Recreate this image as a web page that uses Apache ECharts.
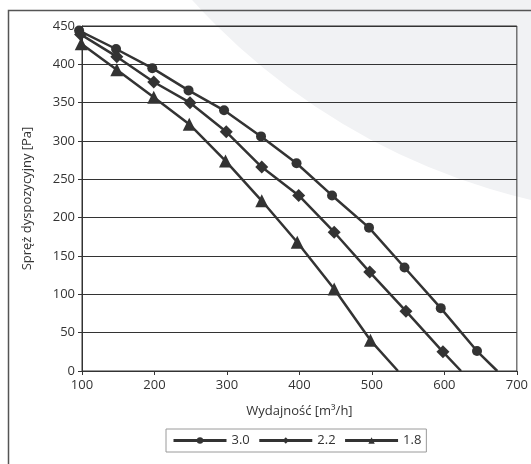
<!DOCTYPE html>
<html>
<head>
<meta charset="utf-8">
<script src="https://cdn.jsdelivr.net/npm/echarts@6/dist/echarts.min.js"></script>
<style>
html,body{margin:0;padding:0;background:#fff;}
#c{width:531px;height:464px;}
</style>
</head>
<body>
<div id="c"></div>
<script>
var seriesNames = ['3.0', '2.2', '1.8'];
var x30 = [96, 147, 197, 247, 296, 347, 396, 445, 496, 545, 595, 645, 673];
var y30 = [444, 420, 395, 366, 340, 306, 271, 229, 187, 135, 82, 26, 0];
var x22 = [98, 148, 199, 249, 299, 348, 399, 448, 497, 547, 598, 623];
var y22 = [439, 410, 377, 350, 312, 266, 229, 181, 129, 78, 25, 0];
var x18 = [99, 148, 199, 248, 298, 348, 397, 448, 498, 536];
var y18 = [427, 393, 357, 322, 274, 222, 168, 107, 40, 0];
var xTicks = [100, 200, 300, 400, 500, 600, 700];
var yTicks = [0, 50, 100, 150, 200, 250, 300, 350, 400, 450];

var FONT = 'Open Sans';
var INK = '#333333';

function build(xs, ys) {
  return xs.map(function (x, i) {
    var item = { value: [x, ys[i]] };
    if (ys[i] === 0) item.symbol = 'none';
    return item;
  });
}

function mkSeries(name, xs, ys, symbol, size) {
  return {
    name: name,
    type: 'line',
    data: build(xs, ys),
    symbol: symbol,
    symbolSize: size,
    showAllSymbol: true,
    clip: false,
    lineStyle: { color: INK, width: 2.5 },
    itemStyle: { color: INK, borderWidth: 0 },
    emphasis: { disabled: true },
    z: 3
  };
}

var chart = echarts.init(document.getElementById('c'), null, { renderer: 'canvas' });
chart.setOption({
  animation: false,
  backgroundColor: '#ffffff',
  textStyle: { fontFamily: FONT },
  graphic: [
    { type: 'circle', shape: { cx: 680, cy: -440, r: 657 }, style: { fill: '#f1f2f4' }, z: -10, silent: true },
    { type: 'polyline', shape: { points: [[8.5, 464], [8.5, 10.5], [531, 10.5]] }, style: { stroke: '#555555', lineWidth: 1.5, fill: null }, z: -5, silent: true }
  ],
  grid: {
    left: 82, right: 6, top: 26, bottom: 93,
    show: true, borderColor: INK, borderWidth: 1, backgroundColor: 'transparent'
  },
  legend: {
    data: seriesNames,
    left: 166, top: 429,
    padding: [5, 5, 5, 6],
    borderColor: '#9a9a9a', borderWidth: 1,
    backgroundColor: '#ffffff',
    itemWidth: 53, itemHeight: 8, itemGap: 8,
    lineStyle: { width: 3 },
    textStyle: { fontFamily: FONT, fontSize: 13, color: INK }
  },
  xAxis: {
    type: 'value', min: xTicks[0], max: xTicks[xTicks.length - 1], interval: 100,
    name: 'Wydajność [m³/h]', nameLocation: 'middle', nameGap: 34,
    nameTextStyle: { fontFamily: FONT, fontSize: 13, color: INK },
    axisLine: { show: true, lineStyle: { color: INK, width: 1 } },
    axisTick: { show: true, length: 4, lineStyle: { color: INK } },
    axisLabel: { fontFamily: FONT, fontSize: 13, color: INK, margin: 8 },
    splitLine: { show: false }
  },
  yAxis: {
    type: 'value', min: yTicks[0], max: yTicks[yTicks.length - 1], interval: 50,
    name: 'Spręż dyspozycyjny [Pa]', nameLocation: 'middle', nameGap: 48,
    nameTextStyle: { fontFamily: FONT, fontSize: 13, color: INK },
    axisLine: { show: true, lineStyle: { color: INK, width: 1 } },
    axisTick: { show: true, length: 4, lineStyle: { color: INK } },
    axisLabel: { fontFamily: FONT, fontSize: 13, color: INK, margin: 7 },
    splitLine: { show: true, lineStyle: { color: INK, width: 1 } }
  },
  series: [
    mkSeries(seriesNames[0], x30, y30, 'circle', 10),
    mkSeries(seriesNames[1], x22, y22, 'diamond', 13),
    mkSeries(seriesNames[2], x18, y18, 'triangle', 13)
  ]
});
</script>
</body>
</html>
